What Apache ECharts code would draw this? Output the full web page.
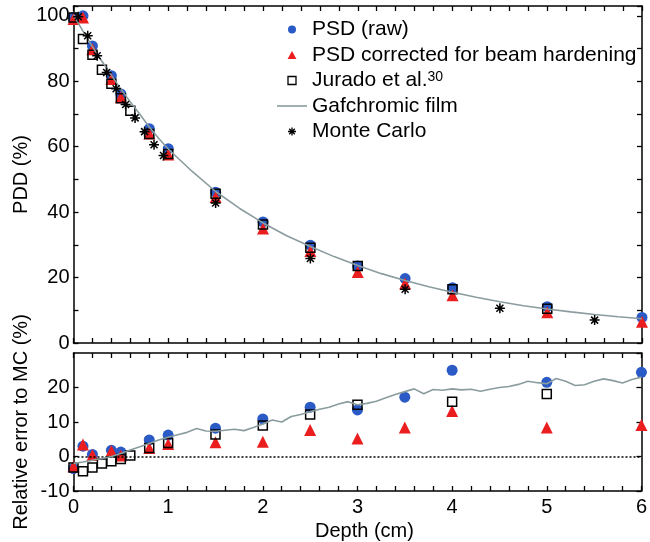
<!DOCTYPE html>
<html>
<head>
<meta charset="utf-8">
<script src="https://cdn.jsdelivr.net/npm/echarts@6/dist/echarts.min.js"></script>
<style>
html, body { margin: 0; padding: 0; background: #fff; }
#chart { width: 650px; height: 542px; }
</style>
</head>
<body>
<div id="chart"></div>
<script>
// depth (cm) for each data set
var psdDepth = [0, 0.1, 0.2, 0.4, 0.5, 0.8, 1, 1.5, 2, 2.5, 3, 3.5, 4, 5, 6];
var psdRaw = [99.5, 100, 90.8, 81.7, 76.1, 65.5, 59.4, 46.1, 37, 29.9, 23.5, 19.7, 16.9, 11.1, 7.8];
var psdCorr = [99, 99.5, 89.8, 80.7, 75.1, 64, 57.6, 44.6, 35, 28.1, 21.7, 18.2, 14.6, 9.4, 6.5];
var psdRawErr = [-3.5, 3, 0.6, 1.8, 1.3, 4.8, 6.2, 8.2, 10.9, 14.3, 13.5, 17.2, 25, 21.5, 24.4];
var psdCorrErr = [-2.8, 3.5, 0.4, 1.6, 0.3, 2.5, 3.6, 4.1, 4.3, 7.7, 5.2, 8.4, 13.2, 8.4, 9.1];

var juradoDepth = [0, 0.1, 0.2, 0.3, 0.4, 0.5, 0.6, 0.8, 1, 1.5, 2, 2.5, 3, 4, 5];
var juradoPdd = [99.5, 92.9, 88.1, 83.5, 79.2, 74.8, 71.0, 63.9, 57.8, 45.6, 36.2, 29.1, 23.5, 16.4, 10.5];
var juradoErr = [-3.2, -4.3, -3.2, -2.0, -1.4, -0.7, 0.3, 2.5, 3.9, 6.4, 9.0, 12.2, 15, 15.9, 18.1];

var mcDepth = [0.05, 0.15, 0.25, 0.35, 0.45, 0.55, 0.65, 0.75, 0.85, 0.95, 1.5, 2.5, 3.5, 4.5, 5.5];
var mcPdd = [99.7, 93.9, 87.8, 82.7, 77.7, 72.9, 68.8, 64.6, 60.6, 57.3, 42.8, 25.8, 16.4, 10.6, 7.0];

var filmDepth = [0, 0.1, 0.2, 0.3, 0.4, 0.5, 0.6, 0.7, 0.8, 0.9, 1.0, 1.25, 1.5, 1.75, 2.0, 2.25, 2.5, 2.75,
    3.0, 3.25, 3.5, 3.75, 4.0, 4.25, 4.5, 4.75, 5.0, 5.25, 5.5, 5.75, 6.0];
var filmPdd = [100.2, 95.3, 90.6, 86.1, 81.8, 77.6, 73.7, 69.9, 66.0, 62.5, 59.3, 52.5, 46.3, 41.2, 36.7, 32.8, 29.5, 26.4,
    23.7, 21.2, 19.1, 17.2, 15.5, 14.0, 12.6, 11.4, 10.4, 9.5, 8.7, 8.0, 7.4];

// film relative error, read every 1 mm
var filmErrDepth = [0, 0.1, 0.2, 0.3, 0.4, 0.5, 0.6, 0.7, 0.8, 0.9, 1.0, 1.1, 1.2, 1.3, 1.4, 1.5, 1.6, 1.7, 1.8, 1.9,
    2.0, 2.1, 2.2, 2.3, 2.4, 2.5, 2.6, 2.7, 2.8, 2.9, 3.0, 3.1, 3.2, 3.3, 3.4, 3.5, 3.6, 3.7, 3.8, 3.9,
    4.0, 4.1, 4.2, 4.3, 4.4, 4.5, 4.6, 4.7, 4.8, 4.9, 5.0, 5.1, 5.2, 5.3, 5.4, 5.5, 5.6, 5.7, 5.8, 5.9, 6.0];
var filmErr = [-2.0, -1.6, -1.1, -0.6, 0.0, 0.9, 1.9, 2.8, 3.8, 4.8, 5.6, 6.3, 7.0, 8.1, 7.4, 7.3, 7.6, 7.9, 7.5, 8.4,
    9.4, 10.6, 10.0, 11.6, 12.2, 13.0, 13.7, 14.3, 15.2, 15.9, 15.0, 15.4, 16.0, 17.0, 18.0, 18.8, 19.6, 18.2, 19.4, 19.2,
    19.6, 19.3, 19.5, 18.9, 19.5, 20.0, 20.3, 20.9, 21.8, 21.4, 21.1, 22.6, 21.8, 20.6, 20.8, 21.8, 22.5, 22.0, 21.3, 22.3, 23.0];

var FONT = 'Liberation Sans, Arial, sans-serif';
var ASTERISK = 'path://M5,0L5,10M0,5L10,5M1.5,1.5L8.5,8.5M8.5,1.5L1.5,8.5';
var FILM_ICON = 'path://M0,0L30,0L30,1.6L0,1.6Z';
var TRI_ICON = 'path://M5,0L10,9L0,9Z';
var SQ_ICON = 'path://M0,0L8,0L8,8L0,8Z';
var BLUE = '#2a5ac6', RED = '#ea1e1e', GREY = '#8a9c9e';

function zip(xs, ys) {
    return xs.map(function (x, i) { return [x, ys[i]]; });
}

function frameAxis(gridIndex, position, extra) {
    var ax = {
        gridIndex: gridIndex,
        type: 'value',
        position: position,
        axisLine: { show: true, onZero: false, lineStyle: { color: '#000', width: 1.5 } },
        axisTick: { show: true, inside: true, length: 5, lineStyle: { color: '#000', width: 1.3 } },
        axisLabel: { show: false },
        splitLine: { show: false }
    };
    for (var k in extra) ax[k] = extra[k];
    return ax;
}

var xOpts = { min: 0, max: 6, interval: 0.2 };
var yTop = { min: 0, max: 103, interval: 10 };
var yBot = { min: -10, max: 30, interval: 10 };

function intLabel(v) {
    return Math.abs(v - Math.round(v)) < 1e-6 ? String(Math.round(v)) : '';
}

var labelStyle = { show: true, fontSize: 20, color: '#000', fontFamily: FONT };
var nameStyle = { fontSize: 20, color: '#000', fontFamily: FONT };
var hollow = { color: 'rgba(0,0,0,0)', borderColor: '#000', borderWidth: 1.5, opacity: 1 };

var chart = echarts.init(document.getElementById('chart'));

var option = {
    animation: false,
    backgroundColor: '#fff',
    textStyle: { fontFamily: FONT },
    grid: [
        { left: 73.5, right: 8, top: 6, height: 337 },
        { left: 73.5, right: 8, top: 353, height: 138 }
    ],
    xAxis: [
        frameAxis(0, 'bottom', xOpts),
        frameAxis(0, 'top', xOpts),
        frameAxis(1, 'bottom', Object.assign({}, xOpts, {
            axisLabel: Object.assign({}, labelStyle, { margin: 6, formatter: intLabel }),
            name: 'Depth (cm)', nameLocation: 'middle', nameGap: 30,
            nameTextStyle: Object.assign({}, nameStyle, { padding: [0, 0, 0, 14] })
        })),
        frameAxis(1, 'top', xOpts)
    ],
    yAxis: [
        frameAxis(0, 'left', Object.assign({}, yTop, {
            axisLabel: Object.assign({}, labelStyle, { margin: 4, formatter: function (v) {
                return (v % 20 === 0 && v <= 100) ? String(v) : '';
            } }),
            name: 'PDD (%)', nameLocation: 'middle', nameGap: 42, nameMoveOverlap: false, nameTextStyle: nameStyle
        })),
        frameAxis(0, 'right', yTop),
        frameAxis(1, 'left', Object.assign({}, yBot, {
            axisLabel: Object.assign({}, labelStyle, { margin: 4, showMaxLabel: false }),
            name: 'Relative error to MC (%)', nameLocation: 'middle', nameGap: 42, nameMoveOverlap: false, nameTextStyle: nameStyle
        })),
        frameAxis(1, 'right', yBot)
    ],
    legend: {
        orient: 'vertical',
        left: 272,
        top: 14,
        itemWidth: 30,
        itemHeight: 8,
        itemGap: 4.5,
        symbolKeepAspect: true,
        selectedMode: false,
        data: [
            { name: 'PSD (raw)', icon: 'circle' },
            { name: 'PSD corrected for beam hardening', icon: TRI_ICON },
            { name: 'Jurado et al.', icon: SQ_ICON, itemStyle: { borderWidth: 1.3 } },
            { name: 'Gafchromic film', icon: FILM_ICON },
            { name: 'Monte Carlo', icon: ASTERISK, itemStyle: { borderWidth: 1.3 } }
        ],
        formatter: function (name) {
            return name === 'Jurado et al.' ? '{a|Jurado et al.}{s|30}' : name;
        },
        textStyle: {
            fontSize: 21, lineHeight: 21, color: '#000', fontFamily: FONT,
            rich: {
                a: { fontSize: 21, lineHeight: 21, color: '#000', fontFamily: FONT },
                s: { fontSize: 14, verticalAlign: 'top', color: '#000', fontFamily: FONT }
            }
        }
    },
    series: [
        // PDD panel
        { name: 'PSD (raw)', type: 'scatter', xAxisIndex: 0, yAxisIndex: 0, data: zip(psdDepth, psdRaw),
          symbol: 'circle', symbolSize: 11, itemStyle: { color: BLUE, opacity: 1 }, z: 2 },
        { name: 'PSD corrected for beam hardening', type: 'scatter', xAxisIndex: 0, yAxisIndex: 0, data: zip(psdDepth, psdCorr),
          symbol: 'triangle', symbolSize: 12, itemStyle: { color: RED, opacity: 1 }, z: 3 },
        { name: 'Jurado et al.', type: 'scatter', xAxisIndex: 0, yAxisIndex: 0, data: zip(juradoDepth, juradoPdd),
          symbol: 'rect', symbolSize: 9, itemStyle: hollow, z: 4 },
        { name: 'Gafchromic film', type: 'line', xAxisIndex: 0, yAxisIndex: 0, data: zip(filmDepth, filmPdd),
          symbol: 'none', showSymbol: false, itemStyle: { color: GREY }, lineStyle: { color: GREY, width: 1.6 }, z: 5 },
        { name: 'Monte Carlo', type: 'scatter', xAxisIndex: 0, yAxisIndex: 0, data: zip(mcDepth, mcPdd),
          symbol: ASTERISK, symbolSize: 10, itemStyle: hollow, z: 6 },
        // relative error panel
        { name: 'PSD (raw)', type: 'scatter', xAxisIndex: 2, yAxisIndex: 2, data: zip(psdDepth, psdRawErr),
          symbol: 'circle', symbolSize: 11, itemStyle: { color: BLUE, opacity: 1 }, z: 2 },
        { name: 'PSD corrected for beam hardening', type: 'scatter', xAxisIndex: 2, yAxisIndex: 2, data: zip(psdDepth, psdCorrErr),
          symbol: 'triangle', symbolSize: 12, itemStyle: { color: RED, opacity: 1 }, z: 3 },
        { name: 'Jurado et al.', type: 'scatter', xAxisIndex: 2, yAxisIndex: 2, data: zip(juradoDepth, juradoErr),
          symbol: 'rect', symbolSize: 9, itemStyle: hollow, z: 4 },
        { name: 'Gafchromic film', type: 'line', xAxisIndex: 2, yAxisIndex: 2, data: zip(filmErrDepth, filmErr),
          symbol: 'none', showSymbol: false, itemStyle: { color: GREY }, lineStyle: { color: GREY, width: 1.6 }, z: 5,
          markLine: {
              silent: true, symbol: 'none', label: { show: false },
              lineStyle: { color: '#000', type: [2, 2], width: 1.5 },
              data: [{ yAxis: 0 }]
          } }
    ]
};

chart.setOption(option);
</script>
</body>
</html>
